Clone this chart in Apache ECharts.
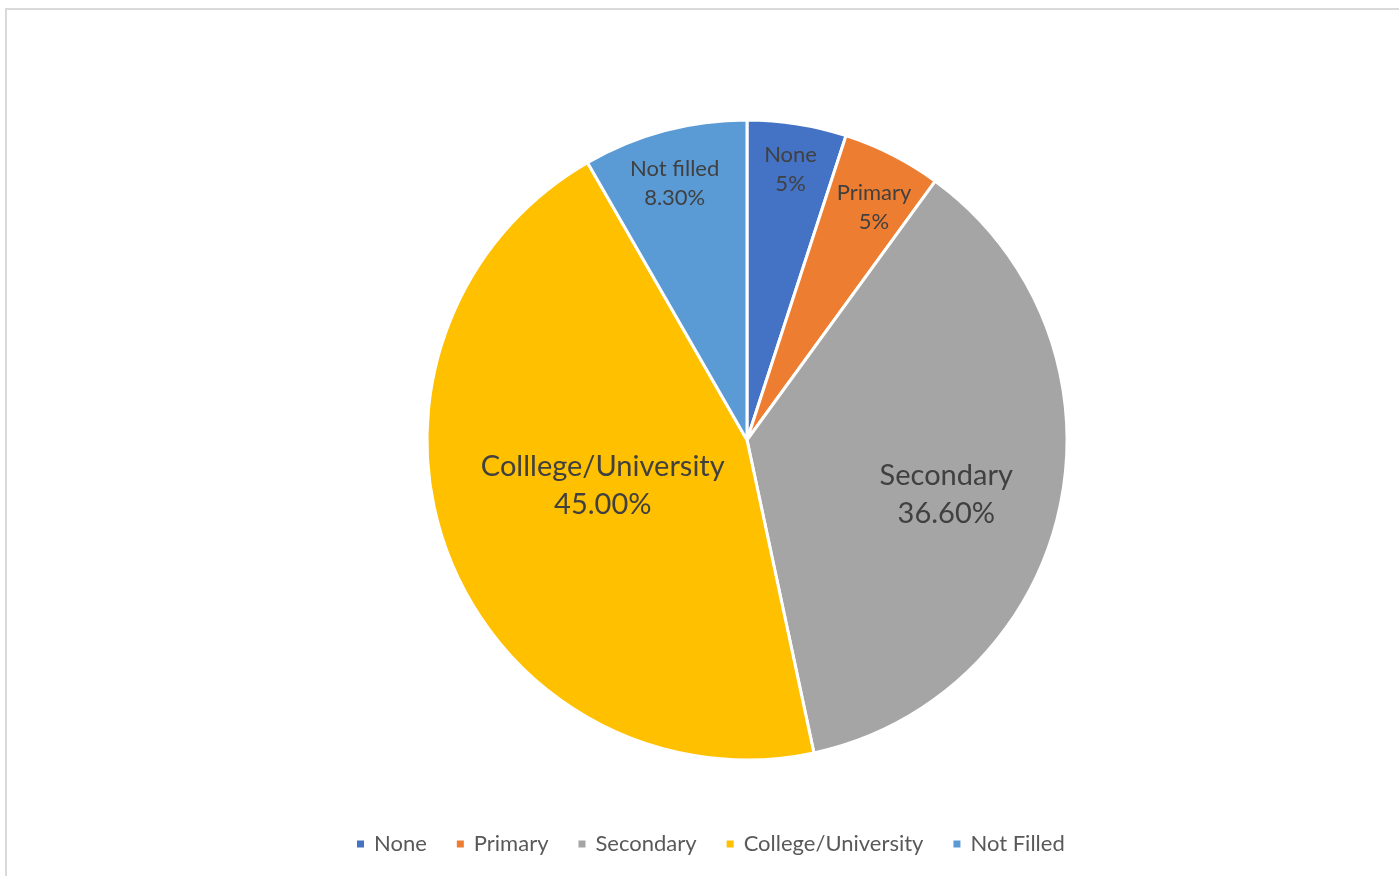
<!DOCTYPE html>
<html>
<head>
<meta charset="utf-8">
<script src="https://cdn.jsdelivr.net/npm/echarts@6/dist/echarts.min.js"></script>
<style>
  html, body { margin: 0; padding: 0; background: #ffffff; }
  #chart { width: 1399px; height: 876px; }
</style>
</head>
<body>
<div id="chart"></div>
<script>
// Education level breakdown (percent of respondents)
const categories = ['None', 'Primary', 'Secondary', 'College/University', 'Not Filled'];
const sliceLabels = ['None', 'Primary', 'Secondary', 'Colllege/University', 'Not filled'];
const shares = [5, 5, 36.6, 45, 8.3];
const shareDecimals = [0, 0, 2, 2, 2];

// Styling
const colors = ['#4472C4', '#ED7D31', '#A5A5A5', '#FFC000', '#5B9BD5'];
const labelRing = [0.86, 0.83, 0.64, 0.47, 0.83];   // label distance from centre, as a fraction of the radius
const labelNudge = [[0, 4], [5, 7], [-4, 12], [-1, -9], [-3, 3]];
const labelSize = [22, 22, 29, 29, 22];
const FONT = 'Lato, "Open Sans", sans-serif';
const R = 320;
const CENTER = [747, 440];

const chart = echarts.init(document.getElementById('chart'), null, { renderer: 'canvas' });

const baseData = categories.map((name, i) => ({
  name,
  value: shares[i],
  itemStyle: { color: colors[i] }
}));

// Main pie: the visible slices
const series = [{
  type: 'pie',
  name: 'Education',
  center: CENTER,
  radius: [0, R],
  startAngle: 90,
  clockwise: true,
  avoidLabelOverlap: false,
  silent: true,
  label: { show: false },
  labelLine: { show: false },
  itemStyle: { borderColor: '#ffffff', borderWidth: 3 },
  emphasis: { disabled: true },
  data: baseData
}];

// Transparent rings that carry each slice's label at its own distance from the centre
categories.forEach((_, k) => {
  const f = labelRing[k];
  series.push({
    type: 'pie',
    center: CENTER,
    radius: [(f - 0.02) * R, (f + 0.02) * R],
    startAngle: 90,
    clockwise: true,
    avoidLabelOverlap: false,
    silent: true,
    emphasis: { disabled: true },
    labelLine: { show: false },
    itemStyle: { color: 'rgba(0,0,0,0)', borderWidth: 0 },
    data: categories.map((name, i) => ({
      name,
      value: shares[i],
      itemStyle: { color: 'rgba(0,0,0,0)' },
      label: {
        show: i === k,
        position: 'inside',
        offset: labelNudge[i],
        fontFamily: FONT,
        fontSize: labelSize[i],
        lineHeight: Math.round(labelSize[i] * 1.3),
        color: '#404040',
        formatter: (p) => sliceLabels[p.dataIndex] + '\n' + p.value.toFixed(shareDecimals[p.dataIndex]) + '%'
      }
    }))
  });
});

chart.setOption({
  animation: false,
  backgroundColor: '#ffffff',
  color: colors,
  graphic: [{
    type: 'rect',
    silent: true,
    shape: { x: 6, y: 9, width: 1600, height: 1000 },
    style: { fill: 'none', stroke: '#d9d9d9', lineWidth: 2 }
  }],
  legend: {
    data: categories,
    bottom: 16,
    left: 350,
    icon: 'rect',
    itemWidth: 9,
    itemHeight: 9,
    itemGap: 28,
    selectedMode: false,
    textStyle: { fontFamily: FONT, fontSize: 22, color: '#595959', padding: [0, 0, 0, 4] }
  },
  series
});
</script>
</body>
</html>
